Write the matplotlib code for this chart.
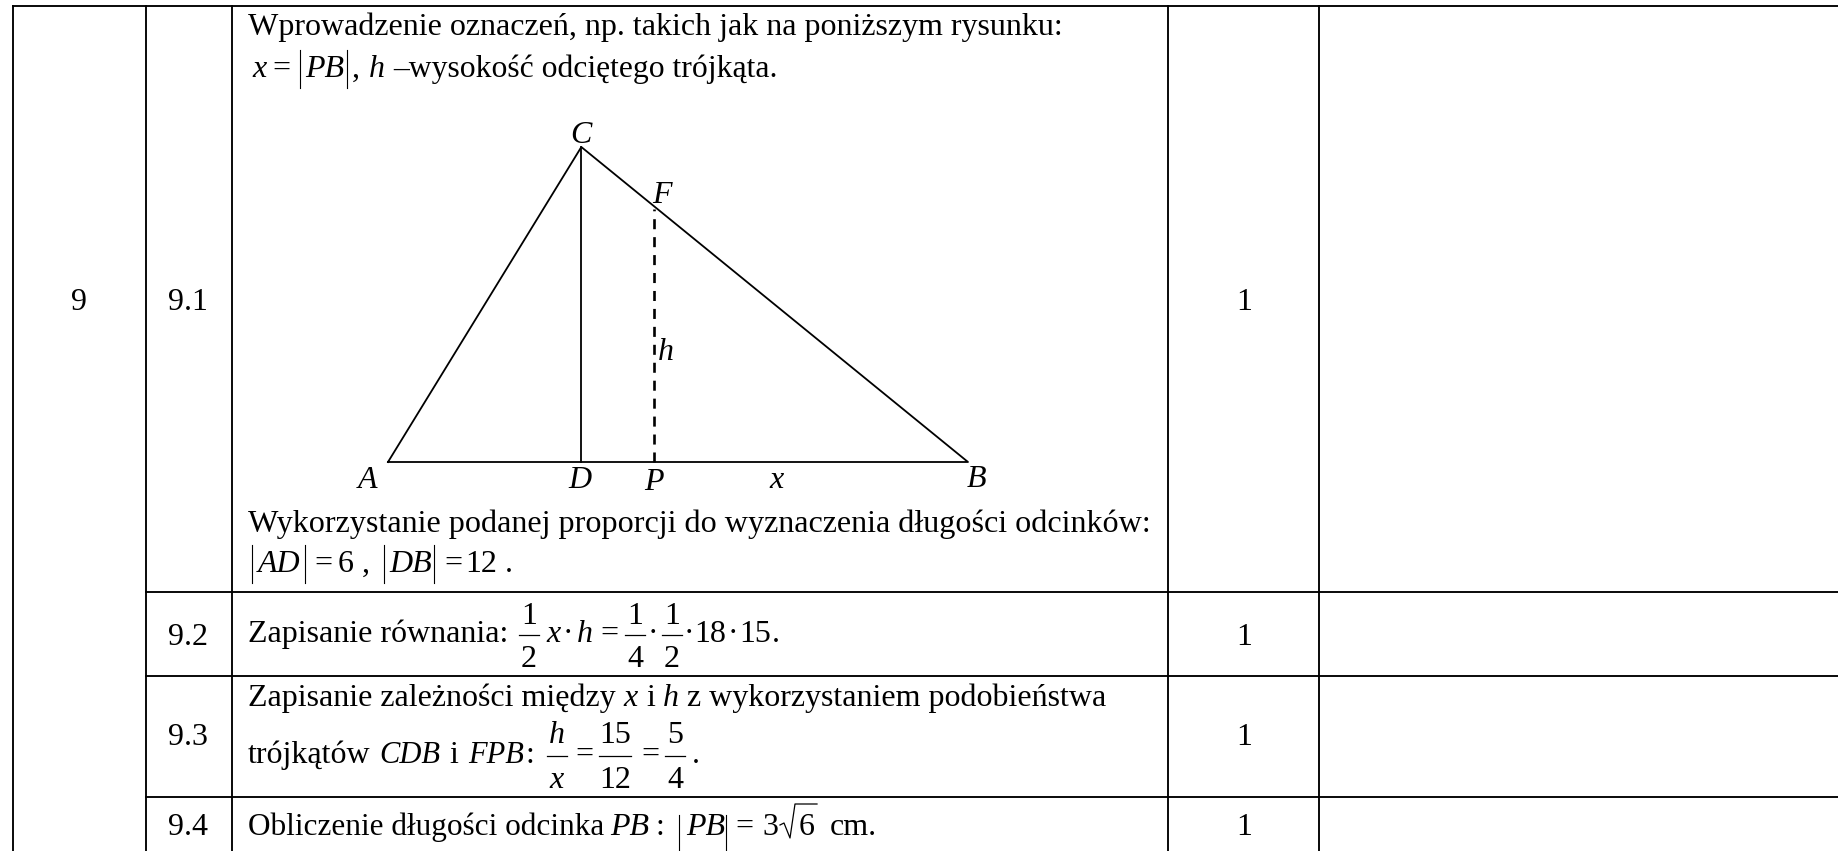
import matplotlib
matplotlib.use("Agg")
import matplotlib.pyplot as plt

W, H = 1838, 851

# table content
task_no = "9"
subtasks = ["9.1", "9.2", "9.3", "9.4"]
points = ["1", "1", "1", "1"]
line_91a = "Wprowadzenie oznaczeń, np. takich jak na poniższym rysunku:"
line_91b = "–wysokość odciętego trójkąta."
line_91c = "Wykorzystanie podanej proporcji do wyznaczenia długości odcinków:"
line_92 = "Zapisanie równania:"
line_93a = "Zapisanie zależności między"
line_93b = "trójkątów"
line_94 = "Obliczenie długości odcinka"

# triangle, in the units of the task
tri_x = [0, 6, 18]      # A, D, B
tri_top = 15            # C above D
p_x = 8.26              # P
f_y = 12.05             # F on CB above P

plt.rcParams["font.family"] = ["Liberation Serif", "DejaVu Serif"]
FS = 23

fig = plt.figure(figsize=(W / 100, H / 100), dpi=100)
ax = fig.add_axes([0, 0, 1, 1])
ax.set_xlim(0, W)
ax.set_ylim(H, 0)
ax.axis("off")


def t(x, y, s, it=False, ha="left", size=FS):
    ax.text(x, y, s, ha=ha, va="baseline", fontsize=size, color="black",
            style="italic" if it else "normal")


def bars(x1, x2, y1, y2):
    for x in (x1, x2):
        ax.plot([x, x], [y1, y2], color="black", lw=0.8)


def frac(xc, num, den, y_num, y_bar, y_den, half, it=False):
    t(xc, y_num, num, it=it, ha="center")
    ax.plot([xc - half, xc + half], [y_bar, y_bar], color="black", lw=0.9)
    t(xc, y_den, den, it=it, ha="center")


# grid
LW = 1.35
ax.plot([13, W], [6, 6], color="black", lw=LW)
for y in (592, 676, 797):
    ax.plot([146, W], [y, y], color="black", lw=LW)
ax.plot([13, 13], [6, H], color="black", lw=LW)
for x in (146, 232):
    ax.plot([x, x], [6, H], color="black", lw=LW)
for x in (1168, 1319):
    ax.plot([x, x], [6, H], color="black", lw=LW)

# first columns
t(79, 310, task_no, ha="center")
for s, y in zip(subtasks, (310, 645, 745, 835)):
    t(188, y, s, ha="center")
for s, y in zip(points, (310, 645, 745, 835)):
    t(1244, y, s, ha="center")

# row 9.1
t(248, 35, line_91a)
t(252, 77, "x", it=True)
t(281, 77, "=", ha="center")
bars(300, 347, 50, 88)
t(305, 77, "PB", it=True)
t(352, 77, ",")
t(369, 77, "h", it=True)
t(393, 77, line_91b, size=22.8)

t(248, 532, line_91c, size=23.15)
bars(252, 305, 545, 583)
t(258, 572, "AD", it=True)
t(323, 572, "=", ha="center")
t(346, 572, "6", ha="center")
t(362, 572, ",")
bars(384, 434, 545, 583)
t(389, 572, "DB", it=True)
t(453, 572, "=", ha="center")
t(465, 572, "12")
t(505, 572, ".")

# triangle
dg = fig.add_axes([388 / W, 1 - 462 / H, (968 - 388) / W, (462 - 147) / H])
dg.set_xlim(tri_x[0], tri_x[2])
dg.set_ylim(0, tri_top)
dg.axis("off")
dg.plot([tri_x[0], tri_x[1], tri_x[2], tri_x[0]], [0, tri_top, 0, 0],
        color="black", lw=1.3, clip_on=False)
dg.plot([tri_x[1], tri_x[1]], [0, tri_top], color="black", lw=1.3, clip_on=False)
dg.plot([p_x, p_x], [0, f_y], color="black", lw=1.9, ls=(0, (3.8, 3)), clip_on=False)

for s, x, y in [("C", 581, 143), ("F", 662, 203), ("h", 666, 360), ("A", 368, 488),
                ("D", 580, 488), ("P", 654, 490), ("x", 777, 488), ("B", 976, 487)]:
    t(x, y, s, it=True, ha="center")

# row 9.2
t(248, 642, line_92)
frac(529, "1", "2", 624, 635, 667, 10)
t(554, 642, "x", it=True, ha="center")
t(568, 642, "·", ha="center")
t(585, 642, "h", it=True, ha="center")
t(609, 642, "=", ha="center")
frac(635, "1", "4", 624, 635, 667, 10)
t(653, 642, "·", ha="center")
frac(672, "1", "2", 624, 635, 667, 10)
t(689, 642, "·", ha="center")
t(694, 642, "18")
t(733, 642, "·", ha="center")
t(739, 642, "15")
t(772, 642, ".")

# row 9.3
t(248, 706, line_93a)
t(623, 706, "x", it=True)
t(646, 706, "i")
t(663, 706, "h", it=True)
t(687, 706, "z wykorzystaniem podobieństwa")
t(248, 763, line_93b)
t(379, 763, "CDB", it=True, size=22)
t(449, 763, "i")
t(468, 763, "FPB", it=True, size=22)
t(525, 763, ":")
frac(557, "h", "x", 743, 756, 788, 10, it=True)
t(584, 763, "=", ha="center")
frac(615, "15", "12", 743, 756, 788, 16)
t(650, 763, "=", ha="center")
frac(675, "5", "4", 743, 756, 788, 10)
t(692, 763, ".")

# row 9.4
t(248, 835, line_94, size=22.5)
t(610, 835, "PB", it=True)
t(655, 835, ":")
bars(679, 726, 815, 850)
t(686, 835, "PB", it=True)
t(744, 835, "=", ha="center")
t(770, 835, "3", ha="center")
ax.plot([780, 784, 790, 795, 817], [825, 823, 838, 804, 804], color="black", lw=0.9)
t(807, 835, "6", ha="center")
t(830, 835, "cm.")

fig.savefig("out.png", dpi=100)
